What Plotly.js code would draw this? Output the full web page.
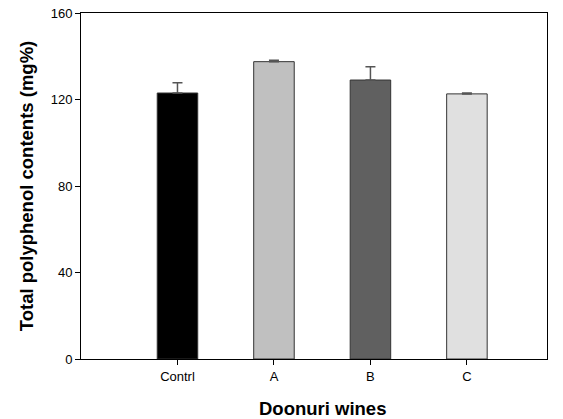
<!DOCTYPE html>
<html>
<head>
<meta charset="utf-8">
<script src="https://cdn.plot.ly/plotly-3.0.1.min.js"></script>
<style>html,body{margin:0;padding:0;background:#fff;}#chart{width:563px;height:419px;}</style>
</head>
<body>
<div id="chart"></div>
<script>
const categories = ["Contrl", "A", "B", "C"];
const values = [123.0, 137.5, 129.0, 122.6];
const errors = [4.8, 0.6, 6.2, 0.4];
const barColors = ["#000000", "#c0c0c0", "#606060", "#e0e0e0"];
const yTicks = [0, 40, 80, 120, 160];
const xTitle = "Doonuri wines";
const yTitle = "Total polyphenol contents (mg%)";

const xPos = categories.map((c, i) => i);

const trace = {
  type: "bar",
  x: xPos,
  y: values,
  width: 0.42,
  marker: { color: barColors, line: { color: "#333333", width: 1 } },
  error_y: { type: "data", array: errors, symmetric: false, arrayminus: errors.map(() => 0), color: "#555555", thickness: 1.5, width: 5 },
  hoverinfo: "none"
};

const FONT = "Liberation Sans, Arial, sans-serif";

const layout = {
  width: 563, height: 419,
  margin: { l: 81, r: 16, t: 13, b: 60 },
  paper_bgcolor: "#ffffff", plot_bgcolor: "#ffffff",
  showlegend: false,
  font: { family: FONT, color: "#000" },
  xaxis: {
    range: [-1, 3.83],
    tickmode: "array", tickvals: xPos, ticktext: categories,
    ticks: "outside", ticklen: 5, tickcolor: "#000", tickwidth: 1,
    showline: true, linecolor: "#000", linewidth: 1, mirror: true,
    showgrid: false, zeroline: false,
    tickfont: { size: 13 }
  },
  yaxis: {
    range: [0, 160],
    tickmode: "array", tickvals: yTicks,
    ticks: "outside", ticklen: 5, tickcolor: "#000", tickwidth: 1,
    showline: true, linecolor: "#000", linewidth: 1, mirror: true,
    showgrid: false, zeroline: false,
    tickfont: { size: 13 },
    title: { text: yTitle, font: { size: 18.5, family: FONT, weight: "bold" }, standoff: 12 }
  },
  annotations: [{
    text: xTitle, xref: "paper", yref: "paper",
    x: 0.518, y: -0.1445, xanchor: "center", yanchor: "middle",
    showarrow: false, font: { size: 18.5, family: FONT, weight: "bold" }
  }]
};

Plotly.newPlot("chart", [trace], layout, { staticPlot: true, displayModeBar: false });
</script>
</body>
</html>
